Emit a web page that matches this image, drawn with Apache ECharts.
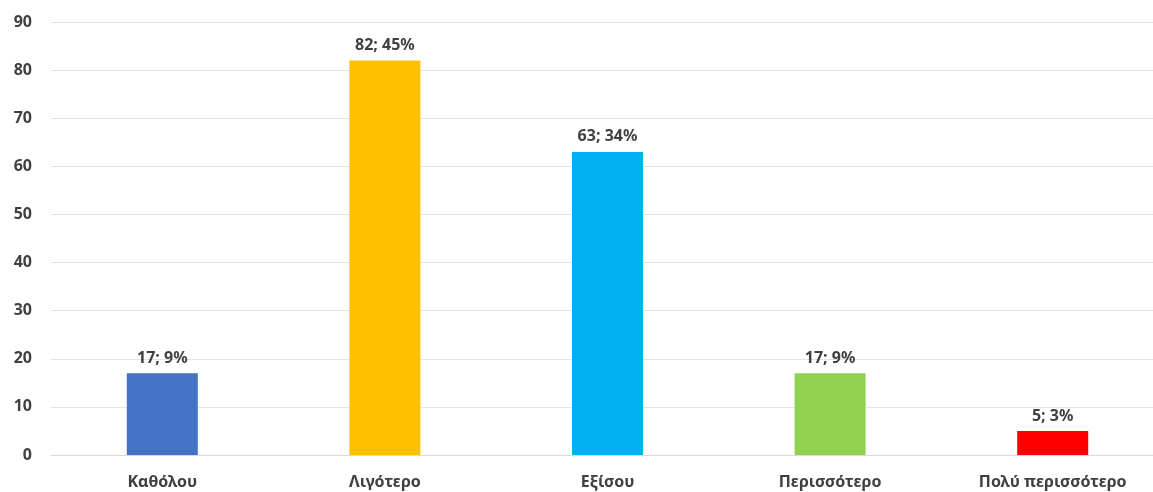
<!DOCTYPE html>
<html>
<head>
<meta charset="utf-8">
<script src="https://cdn.jsdelivr.net/npm/echarts@6/dist/echarts.min.js"></script>
<style>html,body{margin:0;padding:0;background:#fff;overflow:hidden;width:1153px;height:492px}#c{width:1170px;height:492px}</style>
</head>
<body>
<div id="c"></div>
<script>
const categories = ['Καθόλου', 'Λιγότερο', 'Εξίσου', 'Περισσότερο', 'Πολύ περισσότερο'];
const counts = [17, 82, 63, 17, 5];
const percents = [9, 45, 34, 9, 3];
const colors = ['#4472C4', '#FFC000', '#00B0F0', '#92D050', '#FF0000'];
const yTicks = [0, 10, 20, 30, 40, 50, 60, 70, 80, 90];

const chart = echarts.init(document.getElementById('c'));
const font = '"Noto Sans", sans-serif';
chart.setOption({
  animation: false,
  grid: { left: 51, right: 6, top: 22, bottom: 37, containLabel: false },
  xAxis: {
    type: 'category',
    data: categories,
    axisLine: { lineStyle: { color: '#d9d9d9', width: 1 } },
    axisTick: { show: false },
    axisLabel: { color: '#404040', fontWeight: 'bold', fontSize: 16, fontFamily: font, margin: 19 }
  },
  yAxis: {
    type: 'value',
    min: yTicks[0], max: yTicks[yTicks.length - 1], interval: 10,
    axisLine: { show: false },
    axisTick: { show: false },
    splitLine: { lineStyle: { color: '#e4e4e4', width: 1 } },
    axisLabel: { color: '#404040', fontWeight: 'bold', fontSize: 16, fontFamily: font, margin: 19 }
  },
  series: [{
    type: 'bar',
    barWidth: 71,
    data: counts.map((v, i) => ({ value: v, itemStyle: { color: colors[i] } })),
    label: {
      show: true, position: 'top', distance: 7,
      color: '#404040', fontWeight: 'bold', fontSize: 16, fontFamily: font,
      formatter: p => counts[p.dataIndex] + '; ' + percents[p.dataIndex] + '%'
    }
  }]
});
</script>
</body>
</html>
